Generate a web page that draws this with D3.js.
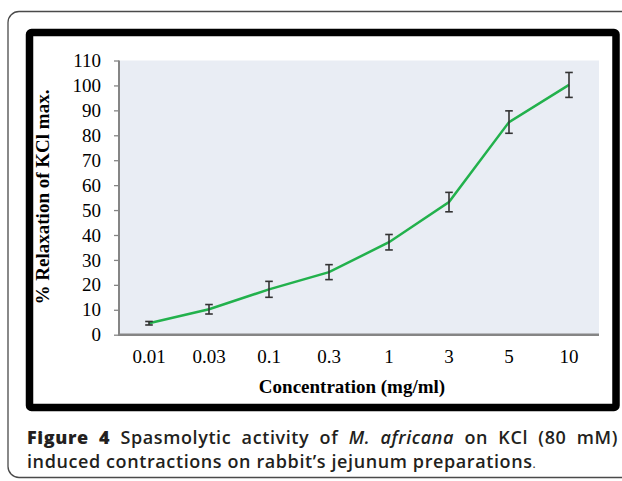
<!DOCTYPE html>
<html>
<head>
<meta charset="utf-8">
<script src="https://cdn.jsdelivr.net/npm/d3@7/dist/d3.min.js"></script>
<style>
  html, body { margin: 0; padding: 0; background: #fff; }
  svg { display: block; }
</style>
</head>
<body>
<svg id="chart" width="622" height="481"></svg>
<script>
const categories = ["0.01", "0.03", "0.1", "0.3", "1", "3", "5", "10"];
const values = [4.6, 10.2, 18.2, 25.1, 37.1, 53.2, 85.3, 100.2];
const errors = [0.7, 1.9, 3.2, 3.0, 3.1, 3.9, 4.5, 5.0];
const yTicks = [0, 10, 20, 30, 40, 50, 60, 70, 80, 90, 100, 110];

const svg = d3.select("#chart");
const serif = "'Liberation Serif', 'Times New Roman', serif";

// outer rounded frame
svg.append("rect").attr("x", 8).attr("y", 11.5).attr("width", 640).attr("height", 466)
  .attr("rx", 11).attr("fill", "none").attr("stroke", "#4a4a4a").attr("stroke-width", 1.3);

// black thick frame
svg.append("rect").attr("x", 29.5).attr("y", 32.5).attr("width", 586.5).attr("height", 375)
  .attr("rx", 2).attr("fill", "#fff").attr("stroke", "#000").attr("stroke-width", 7.5);

const plot = { left: 119, right: 599, top: 60.5, bottom: 334.7 };

const x = d3.scaleBand().domain(categories).range([plot.left, plot.right]);
const y = d3.scaleLinear().domain([0, 110]).range([plot.bottom, plot.top]);

svg.append("rect").attr("x", plot.left).attr("y", plot.top)
  .attr("width", plot.right - plot.left).attr("height", plot.bottom - plot.top)
  .attr("fill", "#e9edf4");

// y axis
const yAxis = svg.append("g").attr("transform", `translate(${plot.left},0)`)
  .call(d3.axisLeft(y).tickValues(yTicks).tickSize(5).tickPadding(13).tickFormat(d3.format("d")));
yAxis.select(".domain").attr("stroke", "#858585").attr("stroke-width", 2).attr("d", `M0,${plot.top}V${plot.bottom}`);
yAxis.selectAll(".tick line").attr("stroke", "#858585").attr("stroke-width", 1.3);
yAxis.selectAll("text").attr("font-family", serif).attr("font-size", 19).attr("fill", "#000");

// x axis
const xAxis = svg.append("g").attr("transform", `translate(0,${plot.bottom})`)
  .call(d3.axisBottom(x).tickSize(0).tickPadding(15));
xAxis.select(".domain").attr("stroke", "#858585").attr("stroke-width", 2.5).attr("d", `M${plot.left - 1},0H${plot.right}`);
xAxis.selectAll("text").attr("font-family", serif).attr("font-size", 19).attr("fill", "#000");

// axis titles
svg.append("text").attr("x", 352).attr("y", 393).attr("text-anchor", "middle")
  .attr("font-family", serif).attr("font-size", 19).attr("font-weight", "bold")
  .text("Concentration (mg/ml)");

svg.append("text").attr("transform", "translate(49,197) rotate(-90)").attr("text-anchor", "middle")
  .attr("font-family", serif).attr("font-size", 19).attr("font-weight", "bold")
  .text("% Relaxation of KCl max.");

const cx = d => x(d) + x.bandwidth() / 2;

// line
const line = d3.line().x((d, i) => cx(categories[i])).y(d => y(d));
svg.append("path").datum(values).attr("d", line).attr("fill", "none")
  .attr("stroke", "#22b14c").attr("stroke-width", 2.5);

// error bars
const eb = svg.append("g").attr("stroke", "#333").attr("stroke-width", 1.6);
values.forEach((v, i) => {
  const px = cx(categories[i]);
  const lo = y(v - errors[i]), hi = y(v + errors[i]);
  eb.append("line").attr("x1", px).attr("x2", px).attr("y1", lo).attr("y2", hi);
  eb.append("line").attr("x1", px - 3.8).attr("x2", px + 3.8).attr("y1", lo).attr("y2", lo);
  eb.append("line").attr("x1", px - 3.8).attr("x2", px + 3.8).attr("y1", hi).attr("y2", hi);
});

// caption
const cap = svg.append("g").attr("font-family", "'Open Sans', 'Noto Sans', sans-serif")
  .attr("font-size", 18).attr("fill", "#231f20").attr("letter-spacing", 0.6);
const l1 = cap.append("text").attr("x", 27).attr("y", 444).attr("font-weight", 600);
l1.append("tspan").attr("font-weight", 800).text("Figure 4");
l1.append("tspan").text(" Spasmolytic activity of ");
l1.append("tspan").attr("font-style", "italic").text("M. africana");
l1.append("tspan").text(" on KCl (80 mM)");
// justify first line to the reference width
const len1 = l1.node().getComputedTextLength();
const spaces = 9;
l1.attr("word-spacing", Math.max(0, (586 - len1) / spaces));

cap.append("text").attr("x", 27).attr("y", 468).attr("font-weight", 600)
  .text("induced contractions on rabbit\u2019s jejunum preparations")
  .append("tspan").attr("font-weight", 400).attr("font-size", 12).text(".");
</script>
</body>
</html>
